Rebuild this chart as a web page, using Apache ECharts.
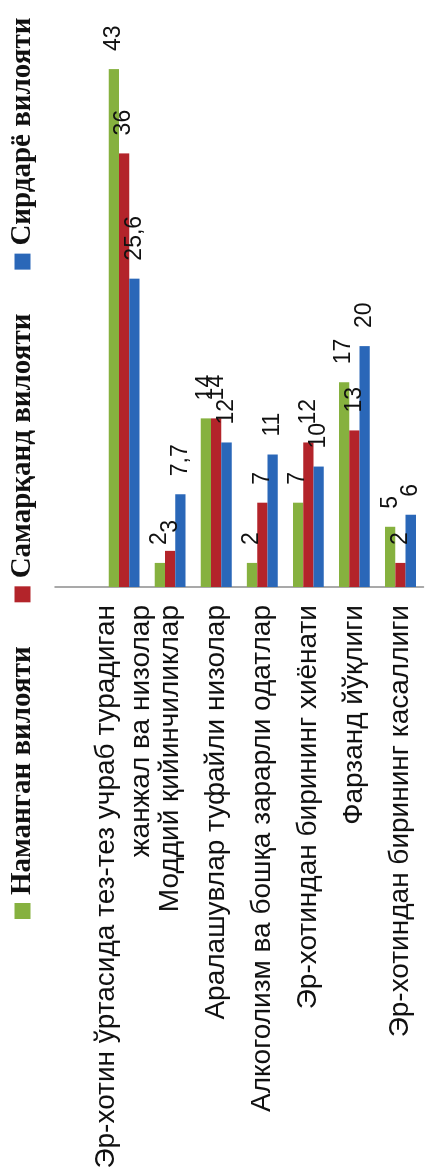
<!DOCTYPE html>
<html><head><meta charset="utf-8">
<script src="https://cdn.jsdelivr.net/npm/echarts@6/dist/echarts.min.js"></script>
<style>
html,body{margin:0;padding:0;background:#fff;overflow:hidden;width:425px;height:1174px;}
#chart{position:absolute;left:0;top:0;width:1174px;height:425px;transform-origin:0 0;transform:translateY(1174px) rotate(-90deg);}
</style></head>
<body><div id="chart"></div>
<script>
const categories = ["", "Эр-хотин ўртасида тез-тез учраб турадиган\nжанжал ва низолар", "Моддий қийинчиликлар", "Аралашувлар туфайли низолар", "Алкоголизм ва бошқа зарарли одатлар", "Эр-хотиндан бирининг хиёнати", "Фарзанд йўқлиги", "Эр-хотиндан бирининг касаллиги"];
const seriesNames = ["Наманган вилояти", "Самарқанд вилояти", "Сирдарё вилояти"];
const namangan = [null, 43, 2, 14, 2, 7, 17, 5];
const samarqand = [null, 36, 3, 14, 7, 12, 13, 2];
const sirdaryo = [null, 25.6, 7.7, 12, 11, 10, 20, 6];
const colors = ["#86b13f", "#b3242a", "#2a67b8"];

const chart = echarts.init(document.getElementById('chart'), null, {renderer: 'canvas'});
const mk = (name, data, color) => ({
  name, type: 'bar', data, barGap: '0%', barCategoryGap: '33%',
  itemStyle: {color},
  label: {show: true, position: 'right', distance: 18, color: '#111',
    fontFamily: 'Liberation Sans', fontSize: 23,
    formatter: p => String(p.value).replace('.', ',')}
});
chart.setOption({
  animation: false,
  backgroundColor: '#fff',
  legend: {
    left: 255, right: 0, top: 8, itemWidth: 16, itemHeight: 16, itemGap: 44,
    icon: 'rect', padding: 0,
    textStyle: {fontFamily: 'Liberation Serif', fontSize: 29, fontWeight: 'bold', color: '#111', padding: [0,0,0,3]},
    data: seriesNames
  },
  grid: {left: 587, right: 45, top: 55, bottom: 1.5, containLabel: false},
  xAxis: {type: 'value', min: 0, max: 45, show: false},
  yAxis: {type: 'category', data: categories, inverse: true,
    axisLine: {show: true, lineStyle: {color: '#8c8c8c', width: 1.5}},
    axisTick: {show: false},
    axisLabel: {margin: 18, fontFamily: 'Liberation Sans', fontSize: 28, color: '#111', lineHeight: 35, align: 'right', padding: [10,0,0,0]}
  },
  series: [mk(seriesNames[0], namangan, colors[0]), mk(seriesNames[1], samarqand, colors[1]), mk(seriesNames[2], sirdaryo, colors[2])]
});
</script></body></html>
